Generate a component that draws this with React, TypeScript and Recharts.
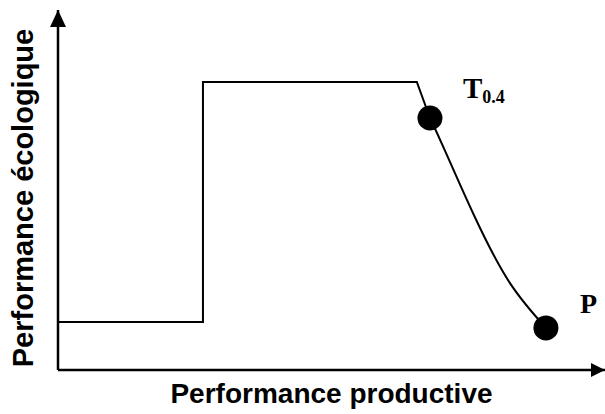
import React from 'react'
import {
  ComposedChart, Line, Scatter, XAxis, YAxis, Label
} from 'recharts'

// step part of the frontier, up to T
const stepX = [0, 26.5, 26.5, 65.6, 68]
const stepY = [13.3, 13.3, 80, 80, 70]
// curved part from T down to P
const curveX = [68, 70.7, 76.2, 82.6, 89.2]
const curveY = [70, 61.1, 42.5, 24.2, 11.7]
// labelled points
const pointNames = ['T', 'P']
const pointX = [68, 89.2]
const pointY = [70, 11.7]

const stepData = stepX.map((x, i) => ({ x, y: stepY[i] }))
const curveData = curveX.map((x, i) => ({ x, y: curveY[i] }))
const pointData = pointNames.map((name, i) => ({ name, x: pointX[i], y: pointY[i] }))
const arrowData = [
  { x: 100, y: 0, dir: 'right' },
  { x: 0, y: 100, dir: 'up' },
]

const PointShape = (props: any) => {
  const { cx, cy, payload } = props
  return (
    <g>
      <circle cx={cx} cy={cy} r={12.5} fill="#000" />
      {payload.name === 'T' ? (
        <text x={cx + 33} y={cy - 20} fontFamily="'Liberation Serif', serif" fontWeight="bold" fontSize={29} fill="#000">
          T<tspan fontSize={18} dy={5}>0.4</tspan>
        </text>
      ) : (
        <text x={cx + 34} y={cy - 15} fontFamily="'Liberation Serif', serif" fontWeight="bold" fontSize={28} fill="#000">
          P
        </text>
      )}
    </g>
  )
}

const ArrowShape = (props: any) => {
  const { cx, cy, payload } = props
  const pts = payload.dir === 'right'
    ? `${cx},${cy} ${cx - 14},${cy - 7} ${cx - 14},${cy + 7}`
    : `${cx},${cy} ${cx - 8},${cy + 17} ${cx + 8},${cy + 17}`
  return <polygon points={pts} fill="#000" />
}

const labelFont = { fontFamily: "'Liberation Sans', Arial, sans-serif", fontWeight: 'bold' as const, fill: '#000' }

export default function App() {
  return (
    <div style={{ position: 'absolute', left: 0, top: 0, background: '#fff' }}>
      <ComposedChart width={605} height={414} margin={{ top: 10, right: 0, left: 57, bottom: 43 }}>
        <XAxis
          type="number"
          dataKey="x"
          domain={[0, 100]}
          height={1}
          tick={false}
          tickLine={false}
          axisLine={{ stroke: '#000', strokeWidth: 2.5 }}
        >
          <Label
            value="Performance productive"
            position="bottom"
            offset={12}
            style={{ ...labelFont, fontSize: 28 }}
          />
        </XAxis>
        <YAxis
          type="number"
          dataKey="y"
          domain={[0, 100]}
          width={1}
          tick={false}
          tickLine={false}
          axisLine={{ stroke: '#000', strokeWidth: 2.5 }}
        >
          <Label
            content={(p: any) => {
              const vb = p.viewBox
              const cx = vb.x - 24
              const cy = vb.y + vb.height / 2 + 8
              return (
                <text
                  x={cx}
                  y={cy}
                  transform={`rotate(-90, ${cx}, ${cy})`}
                  textAnchor="middle"
                  style={{ ...labelFont, fontSize: 29 }}
                >
                  Performance écologique
                </text>
              )
            }}
          />
        </YAxis>
        <Line data={stepData} dataKey="y" type="linear" stroke="#000" strokeWidth={2} dot={false} isAnimationActive={false} />
        <Line data={curveData} dataKey="y" type="natural" stroke="#000" strokeWidth={2} dot={false} isAnimationActive={false} />
        <Scatter data={pointData} dataKey="y" shape={<PointShape />} isAnimationActive={false} />
        <Scatter data={arrowData} dataKey="y" shape={<ArrowShape />} isAnimationActive={false} />
      </ComposedChart>
    </div>
  )
}
